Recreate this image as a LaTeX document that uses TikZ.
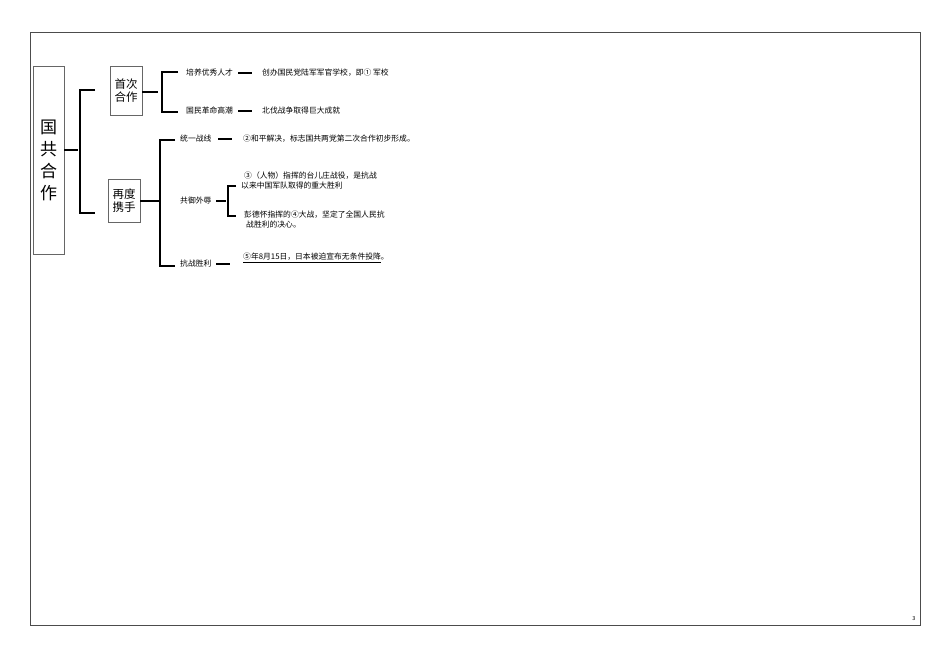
\documentclass[tikz,border=0pt]{standalone}
\usepackage{fontspec}
\setmainfont{Noto Sans CJK SC}
\begin{document}
\begin{tikzpicture}[x=1pt,y=-1pt,
  br/.style={line width=1.8pt},
  box/.style={draw=black!60,line width=0.5pt,inner sep=0pt},
  t/.style={font=\fontsize{7.8}{10}\selectfont,anchor=west,inner sep=0pt,align=left},
  bx/.style={font=\fontsize{11.5}{13}\selectfont,align=center}]
\useasboundingbox (0,0) rectangle (950,670);
\draw[black!70,line width=0.5pt] (30,32) rectangle (920,625);
\node[font=\fontsize{5.5}{6}\selectfont] (pg) at (914,619) {3};
% root
\node[box,minimum width=31pt,minimum height=188pt] (root) at (48.5,160) {};
\node[font=\fontsize{17}{22}\selectfont,align=center] (roott) at (root.center) {国\\共\\合\\作};
\coordinate (r1) at (78,150);
\draw[br] (root.east) ++(0,-10) coordinate (rs) -- (r1);
\draw[br] (95,90) -- (80,90) -- (80,213) -- (95,213);
% first
\node[box,minimum width=32pt,minimum height=49pt] (a) at (126,90.5) {};
\node[bx] (at) at (a.center) {首次\\合作};
\node[box,minimum width=32pt,minimum height=43pt] (b) at (124,200.5) {};
\node[bx] (bt) at (b.center) {再度\\携手};
\coordinate (a1) at (158,92);
\draw[br] (a.east |- a1) -- (a1);
\draw[br] (178,72) -- (162,72) -- (162,112) -- (178,112);
\node[t] (a1l) at (186,73) {培养优秀人才};
\node[t] (a1r) at (262,73) {创办国民党陆军军官学校，即① 军校};
\draw[br] (238,73) -- (252,73);
\node[t] (a2l) at (186,111) {国民革命高潮};
\node[t] (a2r) at (262,111) {北伐战争取得巨大成就};
\draw[br] (238,111) -- (252,111);
% second
\coordinate (b1) at (160,201);
\draw[br] (b.east |- b1) -- (b1);
\draw[br] (175,140) -- (160,140) -- (160,266) -- (175,266);
\node[t] (b1l) at (180,139) {统一战线};
\draw[br] (218,139) -- (232,139);
\node[t] (b1r) at (243,139) {②和平解决，标志国共两党第二次合作初步形成。};
\node[t] (b2l) at (180,201) {共御外辱};
\draw[br] (216,201) -- (226,201);
\draw[br] (236,186) -- (228,186) -- (228,216) -- (236,216);
\node[t] (b2a) at (241,180) {\hspace{3pt}③（人物）指挥的台儿庄战役，是抗战\\以来中国军队取得的重大胜利};
\node[t] (b2b) at (244,219) {彭德怀指挥的④大战，坚定了全国人民抗\\\hspace{2pt}战胜利的决心。};
\node[t] (b3l) at (180,264) {抗战胜利};
\draw[br] (216,264) -- (230,264);
\node[t] (b3r) at (243,258) {\underline{⑤年8月15日，日本被迫宣布无条件投降}。};
\end{tikzpicture}
\end{document}
